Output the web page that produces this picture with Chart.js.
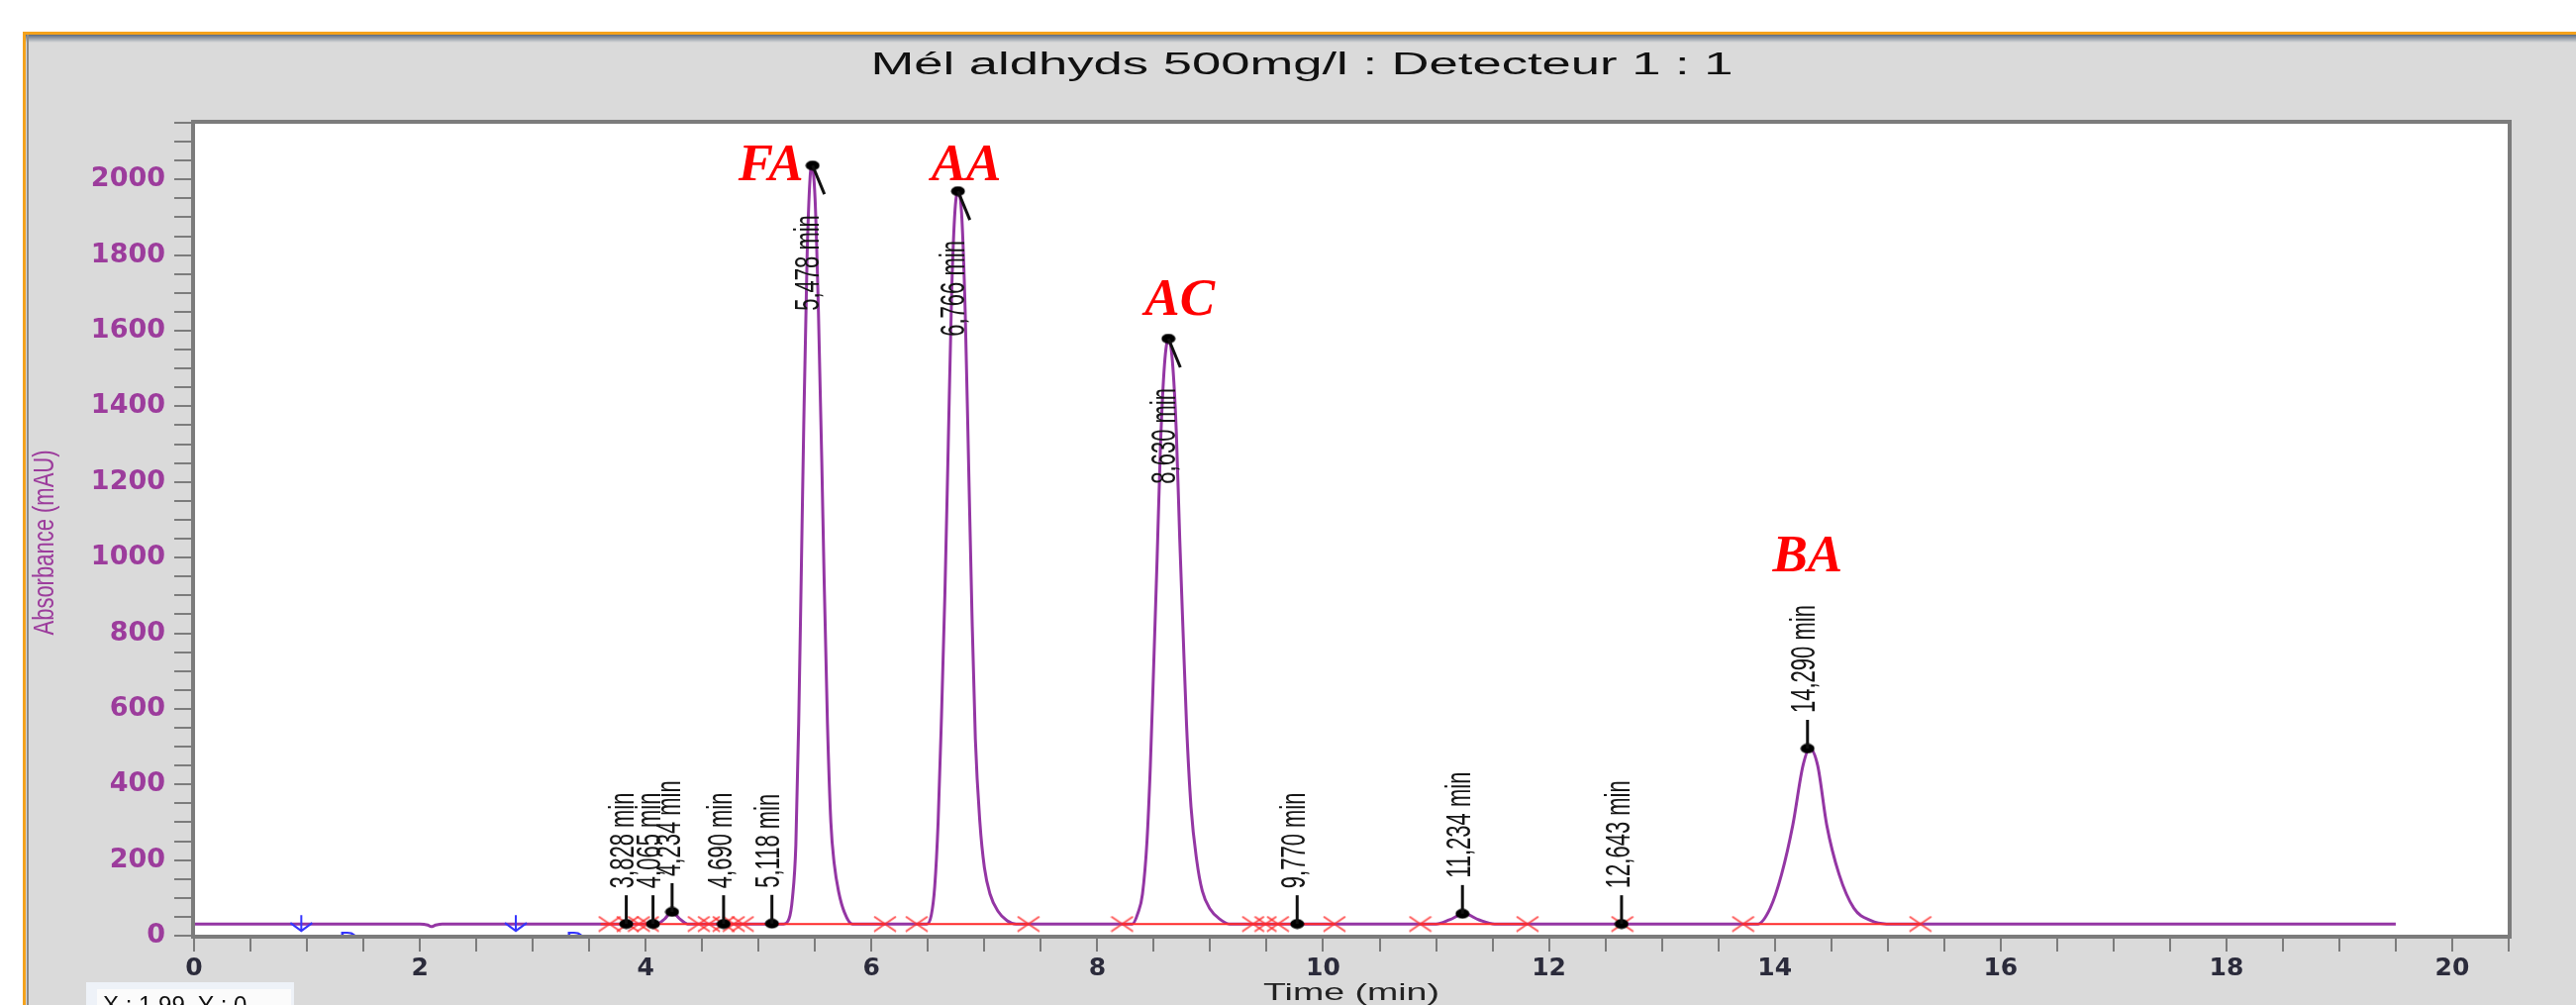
<!DOCTYPE html>
<html>
<head>
<meta charset="utf-8">
<title>Mél aldhyds 500mg/l : Detecteur 1 : 1</title>
<script src="https://cdn.jsdelivr.net/npm/chart.js@4.4.1/dist/chart.umd.min.js"></script>
<style>
  html, body { margin: 0; padding: 0; background: #fff; }
  #wrap { position: relative; width: 2602px; height: 1015px; }
</style>
</head>
<body>
<div id="wrap"><canvas id="chart"></canvas></div>
<script>
// trace: time (min) / absorbance (mAU)
const times = [
  0, 2.00, 2.07, 2.10, 2.14, 2.20,
  4.10, 4.17, 4.23, 4.30, 4.37,
  5.22, 5.27, 5.30, 5.33, 5.355, 5.375, 5.40, 5.43, 5.455, 5.47, 5.50, 5.53, 5.56, 5.58, 5.61, 5.64, 5.67, 5.71, 5.76, 5.83,
  6.49, 6.53, 6.56, 6.59, 6.62, 6.65, 6.68, 6.71, 6.74, 6.77, 6.80, 6.83, 6.86, 6.89, 6.92, 6.96, 7.00, 7.05, 7.12, 7.20, 7.28,
  8.31, 8.36, 8.40, 8.44, 8.47, 8.50, 8.53, 8.56, 8.595, 8.63, 8.665, 8.70, 8.73, 8.76, 8.79, 8.83, 8.88, 8.93, 9.00, 9.08, 9.17,
  11.00, 11.12, 11.25, 11.38, 11.52,
  13.85, 13.96, 14.06, 14.16, 14.25, 14.31, 14.38, 14.46, 14.57, 14.70, 14.85, 14.99,
  19.50
];
const absorbance = [
  31, 31, 28, 24, 28, 31,
  31, 45, 63, 45, 31,
  31, 45, 100, 240, 560, 903, 1350, 1800, 2000, 2037, 1950, 1650, 1250, 950, 560, 300, 190, 115, 62, 31,
  31, 55, 130, 300, 580, 903, 1300, 1700, 1920, 1969, 1900, 1650, 1250, 850, 520, 300, 180, 110, 65, 40, 31,
  31, 60, 110, 250, 450, 720, 1000, 1300, 1510, 1579, 1520, 1330, 1050, 800, 560, 340, 200, 118, 70, 45, 31,
  31, 42, 58, 42, 31,
  31, 73, 162, 293, 450, 495, 450, 293, 162, 73, 40, 31,
  31
];

// integrated peaks
const peakTimes = [3.828, 4.065, 4.234, 4.690, 5.118, 5.478, 6.766, 8.630, 9.770, 11.234, 12.643, 14.290];
const peakApex = [31, 31, 63, 31, 32, 2037, 1969, 1579, 31, 58, 31, 495];
const peakLabels = ['3,828 min', '4,065 min', '4,234 min', '4,690 min', '5,118 min', '5,478 min',
  '6,766 min', '8,630 min', '9,770 min', '11,234 min', '12,643 min', '14,290 min'];

// integration baselines and their end marks
const baselineLevel = 31;
const segStart = [3.60, 6.40, 8.22, 10.86, 12.60, 13.72];
const segEnd = [6.12, 7.39, 10.10, 11.81, 12.70, 15.29];
const crossTimes = [3.68, 3.84, 3.94, 4.02, 4.47, 4.56, 4.69, 4.78, 4.86, 6.12, 6.40, 7.39, 8.22,
  9.38, 9.49, 9.60, 10.10, 10.86, 11.81, 12.65, 13.72, 15.29];

// compound names written on the figure: [time, absorbance] of the text base
const compoundNames = ['FA', 'AA', 'AC', 'BA'];
const compoundAt = [[5.11, 1997], [6.84, 1997], [8.73, 1641], [14.29, 963]];

// blue event marks
const eventArrows = [0.95, 2.85];
const eventLetters = [1.37, 3.38];

const titleText = 'Mél aldhyds 500mg/l : Detecteur 1 : 1';

function markImage(w, h, draw) {
  const c = document.createElement('canvas');
  c.width = w; c.height = h;
  draw(c.getContext('2d'), w, h);
  return c;
}
const crossImg = markImage(24, 17, (g, w, h) => {
  g.strokeStyle = 'rgba(255,45,45,0.8)';
  g.lineWidth = 2;
  g.beginPath();
  g.moveTo(1, 1); g.lineTo(w - 1, h - 1);
  g.moveTo(w - 1, 1); g.lineTo(1, h - 1);
  g.stroke();
});
const dotImg = markImage(15, 11, (g, w, h) => {
  g.fillStyle = '#000';
  g.beginPath();
  g.ellipse(w / 2, h / 2, w / 2 - 0.5, h / 2 - 0.5, 0, 0, Math.PI * 2);
  g.fill();
});

function rotText(ctx, text, x, y, align, sx) {
  ctx.save();
  ctx.translate(x, y);
  ctx.scale(sx, 1);
  ctx.rotate(-Math.PI / 2);
  ctx.textAlign = align;
  ctx.textBaseline = 'middle';
  ctx.fillText(text, 0, 0);
  ctx.restore();
}

function wideText(ctx, text, x, y, width) {
  const w = ctx.measureText(text).width;
  ctx.save();
  ctx.translate(x, y);
  ctx.scale(width / w, 1);
  ctx.textAlign = 'center';
  ctx.textBaseline = 'alphabetic';
  ctx.fillText(text, 0, 0);
  ctx.restore();
}

const decor = {
  id: 'decor',
  beforeDraw(chart) {
    const { ctx, chartArea: a, width, height } = chart;
    ctx.save();
    ctx.fillStyle = '#ffffff';
    ctx.fillRect(0, 0, width, height);
    ctx.fillStyle = '#dadada';
    ctx.fillRect(25, 33, width - 25, height - 33);
    const g = ctx.createLinearGradient(0, 35, 0, 43);
    g.addColorStop(0, '#5a6a7e');
    g.addColorStop(1, '#dadada');
    ctx.fillStyle = g;
    ctx.fillRect(26, 35, width - 26, 8);
    ctx.fillStyle = '#f4a21c';
    ctx.fillRect(23, 32, width - 23, 3);
    ctx.fillRect(23, 32, 3, height - 32);
    ctx.fillStyle = '#8c8c8c';
    ctx.fillRect(27, 35, 2, height - 35);
    ctx.fillStyle = '#ffffff';
    ctx.fillRect(a.left, a.top, a.right - a.left, a.bottom - a.top);
    ctx.restore();
  },
  afterDatasetsDraw(chart) {
    const { ctx, chartArea: a } = chart;
    const xs = chart.scales.x, ys = chart.scales.y;
    ctx.save();

    // blue event marks, cut by the axis
    ctx.beginPath();
    ctx.rect(a.left, a.top, a.right - a.left, a.bottom - a.top);
    ctx.clip();
    const yb = ys.getPixelForValue(baselineLevel);
    ctx.strokeStyle = '#3434ff';
    ctx.lineWidth = 2;
    eventArrows.forEach(t => {
      const x = xs.getPixelForValue(t);
      ctx.beginPath();
      ctx.moveTo(x, yb - 9); ctx.lineTo(x, yb + 7);
      ctx.moveTo(x - 11, yb - 1); ctx.lineTo(x, yb + 7); ctx.lineTo(x + 11, yb - 1);
      ctx.stroke();
    });
    ctx.fillStyle = '#3434ff';
    ctx.font = '28px "Liberation Sans", Arial, sans-serif';
    ctx.textAlign = 'center';
    eventLetters.forEach(t => ctx.fillText('D', xs.getPixelForValue(t), a.bottom + 15));
    ctx.restore();

    // peak ticks and retention times
    ctx.save();
    ctx.strokeStyle = '#111';
    ctx.fillStyle = '#151515';
    ctx.lineWidth = 3;
    ctx.font = '22px "Liberation Sans", Arial, sans-serif';
    peakTimes.forEach((t, i) => {
      const x = xs.getPixelForValue(t);
      const y = ys.getPixelForValue(peakApex[i]);
      ctx.beginPath();
      if (peakApex[i] > 1000) {
        ctx.moveTo(x, y); ctx.lineTo(x + 12, y + 29);
        ctx.stroke();
        rotText(ctx, peakLabels[i], x - 3, y + 50, 'right', 1.6);
      } else {
        ctx.moveTo(x, y); ctx.lineTo(x, y - 29);
        ctx.stroke();
        rotText(ctx, peakLabels[i], x - 2, y - 36, 'left', 1.6);
      }
    });
    ctx.restore();

    // compound names
    ctx.save();
    ctx.fillStyle = '#ff0000';
    ctx.font = 'italic bold 53px "Liberation Serif", "Times New Roman", serif';
    ctx.textAlign = 'center';
    ctx.textBaseline = 'alphabetic';
    compoundNames.forEach((n, i) => {
      ctx.fillText(n, xs.getPixelForValue(compoundAt[i][0]), ys.getPixelForValue(compoundAt[i][1]));
    });
    ctx.restore();
  },
  afterDraw(chart) {
    const { ctx, chartArea: a } = chart;
    ctx.save();
    // plot frame
    ctx.strokeStyle = '#7c7c7c';
    ctx.lineWidth = 4;
    ctx.strokeRect(a.left - 1, a.top - 1, a.right - a.left + 2, a.bottom - a.top + 2);

    // title and axis titles
    ctx.fillStyle = '#111';
    ctx.font = '31px "Liberation Sans", Arial, sans-serif';
    wideText(ctx, titleText, 1315, 75, 871);
    ctx.font = '24px "Liberation Sans", Arial, sans-serif';
    ctx.fillStyle = '#222';
    wideText(ctx, 'Time (min)', (a.left + a.right) / 2, 1010, 178);
    ctx.fillStyle = '#9c3c9c';
    ctx.font = '22px "Liberation Sans", Arial, sans-serif';
    rotText(ctx, 'Absorbance (mAU)', 46, 548, 'center', 1.35);

    // cursor read-out box at the bottom left
    ctx.fillStyle = '#eef2f8';
    ctx.fillRect(87, 992, 210, 23);
    ctx.fillStyle = '#fbfbfb';
    ctx.fillRect(98, 999, 196, 16);
    ctx.fillStyle = '#111';
    ctx.font = '24px "Liberation Sans", Arial, sans-serif';
    ctx.textAlign = 'left';
    ctx.textBaseline = 'alphabetic';
    ctx.fillText('X : 1.99, Y : 0', 104, 1023);
    ctx.restore();
  }
};

const traceData = times.map((t, i) => ({ x: t, y: absorbance[i] }));
const baselineData = [];
segStart.forEach((s, i) => {
  baselineData.push({ x: s, y: baselineLevel }, { x: segEnd[i], y: baselineLevel }, { x: segEnd[i], y: null });
});

const ctx = document.getElementById('chart').getContext('2d');
new Chart(ctx, {
  type: 'line',
  data: {
    datasets: [
      {
        label: 'Detecteur 1',
        data: traceData,
        borderColor: '#9436a4',
        borderWidth: 3,
        pointRadius: 0,
        cubicInterpolationMode: 'monotone',
        order: 4
      },
      {
        label: 'baseline',
        data: baselineData,
        borderColor: '#ff2a2a',
        borderWidth: 2,
        pointRadius: 0,
        spanGaps: false,
        order: 3
      },
      {
        type: 'scatter',
        label: 'limits',
        data: crossTimes.map(t => ({ x: t, y: baselineLevel })),
        pointStyle: crossImg,
        showLine: false,
        order: 2
      },
      {
        type: 'scatter',
        label: 'apex',
        data: peakTimes.map((t, i) => ({ x: t, y: peakApex[i] })),
        pointStyle: dotImg,
        showLine: false,
        order: 1
      }
    ]
  },
  options: {
    responsive: true,
    maintainAspectRatio: false,
    animation: false,
    layout: { padding: { left: 0, top: 124, right: 68, bottom: 0 } },
    plugins: {
      legend: { display: false },
      tooltip: { enabled: false },
      title: { display: false }
    },
    scales: {
      x: {
        type: 'linear',
        min: 0,
        max: 20.5,
        afterFit: s => { s.height = 70; },
        border: { display: false },
        grid: { drawOnChartArea: false, drawTicks: true, tickLength: 16, color: '#7c7c7c', lineWidth: 2 },
        ticks: {
          stepSize: 0.5,
          autoSkip: false,
          maxRotation: 0,
          padding: 2,
          color: '#2b2b3b',
          font: { family: 'DejaVu Sans', size: 25, weight: 'bold' },
          callback: v => (Math.abs(v % 2) < 1e-9 ? String(v) : '')
        }
      },
      y: {
        min: 0,
        max: 2150,
        afterFit: s => { s.width = 196; },
        border: { display: false },
        grid: { drawOnChartArea: false, drawTicks: true, tickLength: 20, color: '#7c7c7c', lineWidth: 2 },
        ticks: {
          stepSize: 50,
          autoSkip: false,
          includeBounds: false,
          padding: 9,
          color: '#9c3c9c',
          font: { family: 'DejaVu Sans', size: 27, weight: 'bold' },
          callback: v => (v % 200 === 0 ? String(v) : '')
        }
      }
    }
  },
  plugins: [decor]
});
</script>
</body>
</html>
